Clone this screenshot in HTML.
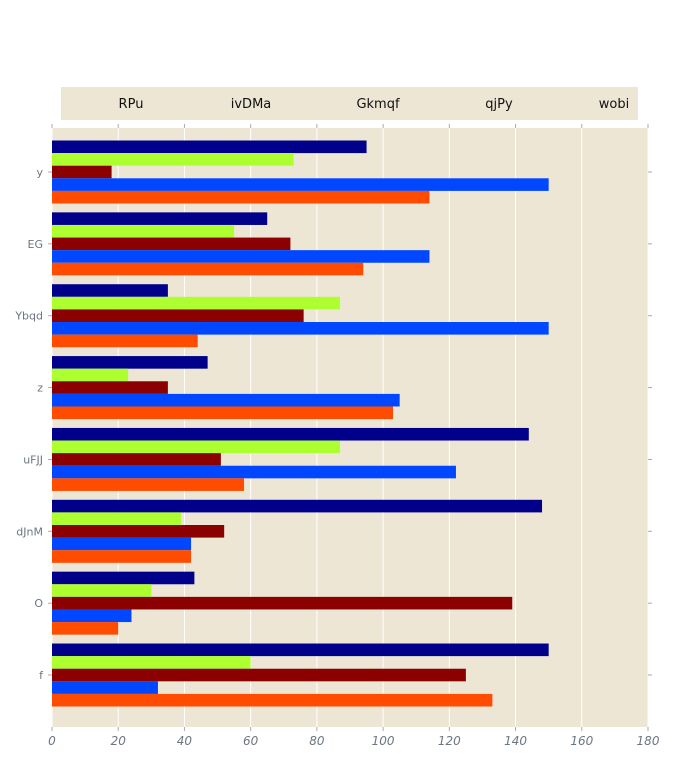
<!DOCTYPE html>
<html><head><meta charset="utf-8"><style>body{margin:0;background:#fff}svg{display:block}</style></head>
<body>
<svg id="chart" width="684" height="760" xmlns="http://www.w3.org/2000/svg">
<rect x="61" y="87" width="577" height="33" fill="#ede6d5"/>
<rect x="52" y="128" width="596" height="599" fill="#ede6d5"/>
<g id="grid"></g><g id="bars"></g><g id="axes"></g><g id="legend"></g>
</svg>
<script>
const categories = ["y","EG","Ybqd","z","uFJJ","dJnM","O","f"];
const seriesNames = ["RPu","ivDMa","Gkmqf","qjPy","wobi"];
const sRPu = [95,65,35,47,144,148,43,150];
const sIvDMa = [73,55,87,23,87,39,30,60];
const sGkmqf = [18,72,76,35,51,52,139,125];
const sQjPy = [150,114,150,105,122,42,24,32];
const sWobi = [114,94,44,103,58,42,20,133];
const xTicks = [0,20,40,60,80,100,120,140,160,180];
const series = [sRPu,sIvDMa,sGkmqf,sQjPy,sWobi];
const colors = ["#00008b","#adff2f","#8b0000","#0047ff","#ff4c00"];
const NS="http://www.w3.org/2000/svg";
const x0=52,x1=648,xMax=180;
const xs=v=>x0+(v/xMax)*(x1-x0);
const yc=i=>172+i*71.86;
const bh=12.6;
function mk(tag,attrs,parent){const e=document.createElementNS(NS,tag);for(const k in attrs)e.setAttribute(k,attrs[k]);document.getElementById(parent).appendChild(e);return e;}
xTicks.forEach(t=>{
  const g=mk('line',{x1:xs(t),x2:xs(t),y1:128,y2:727,stroke:'#fff','stroke-width':1},'grid');
  
  
  [[124,128],[727,731]].forEach(([a,b])=>{const tk=mk('line',{x1:xs(t),x2:xs(t),y1:a,y2:b,stroke:'#aaa'},'axes');
    
    });
  const l=mk('text',{x:xs(t),y:745,'text-anchor':'middle','font-family':'DejaVu Sans, sans-serif','font-size':12,'font-style':'italic',fill:'#6b7682'},'axes');
  l.textContent=t;
  
  
});
categories.forEach((c,i)=>{
  series.forEach((s,j)=>{
    const r=mk('rect',{x:x0,y:yc(i)-2.5*bh+j*bh,width:xs(s[i])-x0,height:bh,fill:colors[j]},'bars');
    
    
  });
  [[48,52],[648,652]].forEach(([a,b])=>{const tk=mk('line',{x1:a,x2:b,y1:yc(i),y2:yc(i),stroke:'#aaa'},'axes');
    
    });
  const l=mk('text',{x:43,y:yc(i)+4,'text-anchor':'end','font-family':'DejaVu Sans, sans-serif','font-size':11,fill:'#6b7682'},'axes');
  l.textContent=c;
  
  
});
const lx=[131,251,378,499,614];
seriesNames.forEach((n,j)=>{
  const l=mk('text',{x:lx[j],y:108,'text-anchor':'middle','font-family':'DejaVu Sans, sans-serif','font-size':13,fill:'#111'},'legend');
  l.textContent=n;
  
  
});
</script>
</body></html>
